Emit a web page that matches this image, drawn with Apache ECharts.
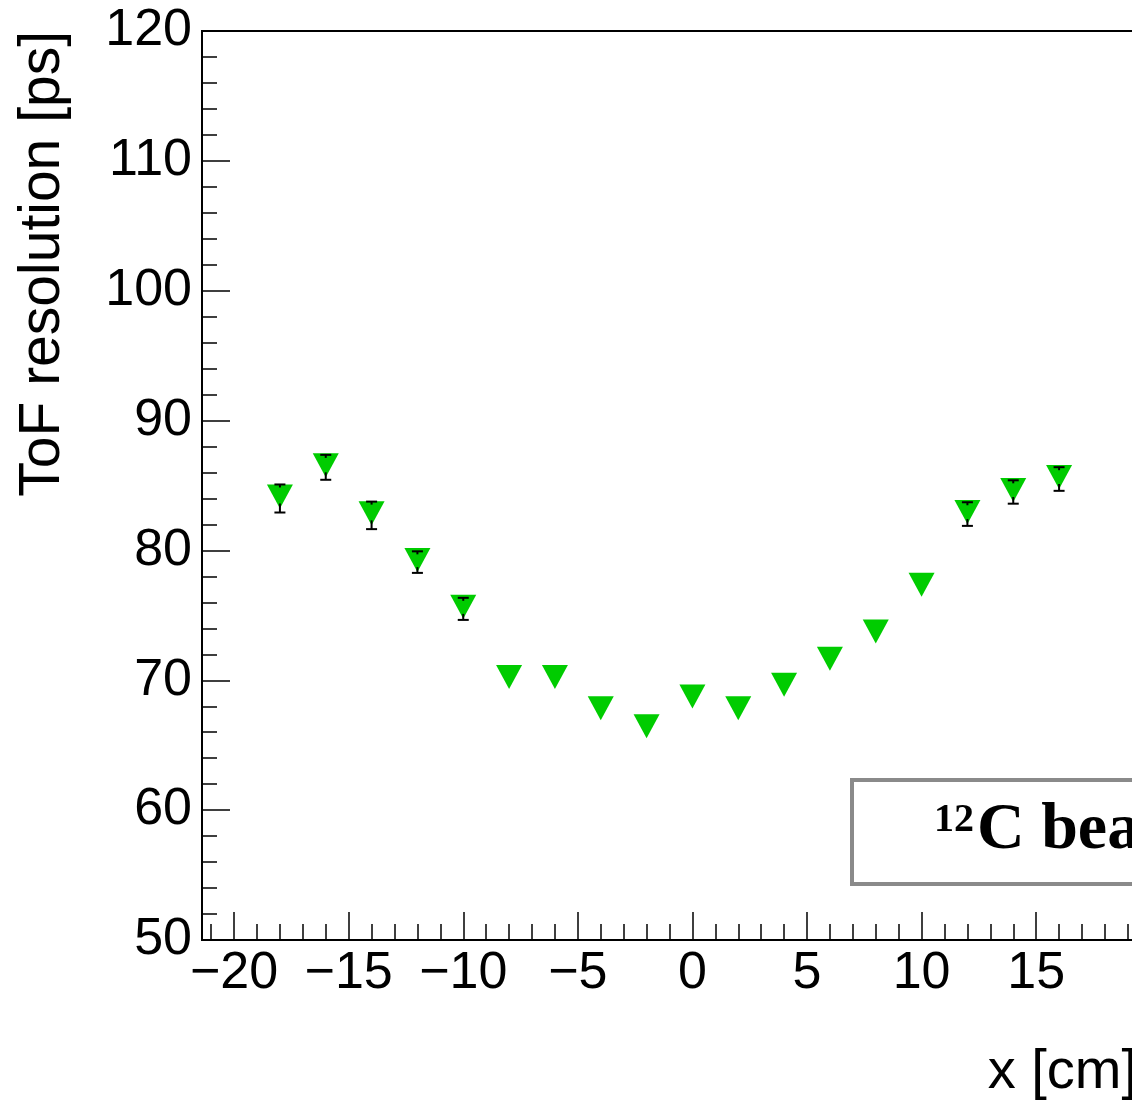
<!DOCTYPE html>
<html>
<head>
<meta charset="utf-8">
<script src="https://cdn.jsdelivr.net/npm/echarts@6/dist/echarts.min.js"></script>
<style>
html,body{margin:0;padding:0;background:#fff;overflow:hidden;}
#chart{width:1132px;height:1106px;}
</style>
</head>
<body>
<div id="chart"></div>
<script>
// ---- data ----
const xValues = [-18, -16, -14, -12, -10, -8, -6, -4, -2, 0, 2, 4, 6, 8, 10, 12, 14, 16];
const resolution = [84.0, 86.4, 82.7, 79.1, 75.5, 70.1, 70.1, 67.7, 66.3, 68.6, 67.7, 69.5, 71.5, 73.6, 77.2, 82.8, 84.5, 85.5];
const resolutionErr = [1.08, 0.96, 1.06, 0.83, 0.85, 0, 0, 0, 0, 0, 0, 0, 0, 0, 0, 0.91, 0.90, 0.91];
const xMajorTicks = [-20, -15, -10, -5, 0, 5, 10, 15];
const xMinorTicks = [-21, -19, -18, -17, -16, -14, -13, -12, -11, -9, -8, -7, -6, -4, -3, -2, -1, 1, 2, 3, 4, 6, 7, 8, 9, 11, 12, 13, 14, 16, 17, 18, 19];
const yTicks = [50, 60, 70, 80, 90, 100, 110, 120];
const xTitle = 'x [cm]';
const yTitle = 'ToF resolution [ps]';
const beamIso = '12';
const beamText = 'C beam';

const chart = echarts.init(document.getElementById('chart'), null, {renderer: 'canvas'});
const fmt = v => (v < 0 ? '\u2212' + Math.abs(v) : String(v));
const labelFont = {fontFamily: '"Liberation Sans", Arial, sans-serif', fontSize: 52, color: '#000'};

const points = xValues.map((x, i) => [x, resolution[i], resolutionErr[i]]);

const option = {
  animation: false,
  backgroundColor: '#fff',
  grid: {
    left: 202, top: 31, width: 935, height: 909,
    outerBoundsMode: 'none', containLabel: false,
    show: true, borderColor: '#000', borderWidth: 2, backgroundColor: 'transparent'
  },
  xAxis: [
    {
      type: 'value', min: -21.4, max: 19.4, position: 'bottom',
      axisLine: {show: true, onZero: false, lineStyle: {color: '#000', width: 2}},
      axisTick: {show: true, inside: true, length: 28, customValues: xMajorTicks, lineStyle: {color: '#000', width: 1.5}},
      axisLabel: Object.assign({show: true, margin: 8, customValues: xMajorTicks, formatter: fmt}, labelFont),
      splitLine: {show: false}
    },
    {
      type: 'value', min: -21.4, max: 19.4, position: 'bottom', offset: 0,
      axisLine: {show: false, onZero: false},
      axisTick: {show: true, inside: true, length: 16, customValues: xMinorTicks, lineStyle: {color: '#000', width: 1.5}},
      axisLabel: {show: false},
      splitLine: {show: false}
    }
  ],
  yAxis: {
    type: 'value', min: 50, max: 120, interval: 10,
    axisLine: {show: true, onZero: false, lineStyle: {color: '#000', width: 2}},
    axisTick: {show: true, inside: true, length: 28, lineStyle: {color: '#000', width: 1.5}},
    minorTick: {show: true, splitNumber: 5, length: 15, lineStyle: {color: '#000', width: 1.5}},
    axisLabel: Object.assign({show: true, margin: 10, customValues: yTicks}, labelFont),
    splitLine: {show: false}
  },
  series: [
    {
      type: 'scatter',
      data: points.map(p => [p[0], p[1]]),
      symbol: 'triangle',
      symbolRotate: 180,
      symbolSize: [26, 24],
      symbolOffset: [0, -2],
      itemStyle: {color: '#00cc00', opacity: 1},
      z: 3
    },
    {
      type: 'custom',
      data: points,
      z: 4,
      renderItem: function (params, api) {
        const x = api.value(0), y = api.value(1), e = api.value(2);
        if (!e) return null;
        const c = api.coord([x, y]);
        const t = api.coord([x, y + e]);
        const b = api.coord([x, y - e]);
        const st = {stroke: '#000', lineWidth: 2};
        const hw = 5.5;
        return {
          type: 'group',
          children: [
            {type: 'line', shape: {x1: c[0], y1: c[1] + 5, x2: b[0], y2: b[1]}, style: st},
            {type: 'line', shape: {x1: t[0], y1: t[1], x2: t[0], y2: t[1] + 3}, style: st},
            {type: 'line', shape: {x1: t[0] - hw, y1: t[1], x2: t[0] + hw, y2: t[1]}, style: st},
            {type: 'line', shape: {x1: b[0] - hw, y1: b[1], x2: b[0] + hw, y2: b[1]}, style: st}
          ]
        };
      }
    }
  ],
  graphic: [
    {
      type: 'text', x: 43, y: 31, rotation: Math.PI / 2,
      style: {text: yTitle, fontFamily: '"Liberation Sans", Arial, sans-serif', fontSize: 57, fill: '#000', align: 'right', verticalAlign: 'middle'}
    },
    {
      type: 'text', x: 1137, y: 1073,
      style: {text: xTitle, fontFamily: '"Liberation Sans", Arial, sans-serif', fontSize: 56, fill: '#000', align: 'right', verticalAlign: 'middle'}
    },
    {
      type: 'rect', z: 10,
      shape: {x: 852, y: 780, width: 600, height: 104},
      style: {fill: '#fff', stroke: '#8a8a8a', lineWidth: 4}
    },
    {
      type: 'text', z: 11, x: 934, y: 821,
      style: {text: beamIso, fontFamily: '"Liberation Serif", serif', fontWeight: 'bold', fontSize: 40, fill: '#000', align: 'left', verticalAlign: 'middle'}
    },
    {
      type: 'text', z: 11, x: 977, y: 831,
      style: {text: beamText, fontFamily: '"Liberation Serif", serif', fontWeight: 'bold', fontSize: 66, fill: '#000', align: 'left', verticalAlign: 'middle'}
    }
  ]
};
chart.setOption(option);
</script>
</body>
</html>
